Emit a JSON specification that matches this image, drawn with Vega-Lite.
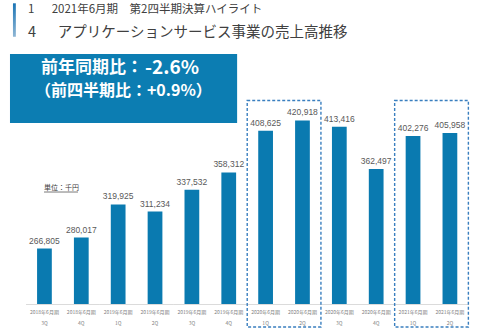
{
  "$schema": "https://vega.github.io/schema/vega-lite/v6.json",
  "width": 480,
  "height": 260,
  "autosize": "none",
  "padding": {"left": 0, "right": 0, "top": 44, "bottom": 25},
  "background": "white",
  "config": {"view": {"stroke": null}},
  "title": {
    "text": "1\u3000\u20022021年6月期\u3000第2四半期決算ハイライト",
    "subtitle": "\u20094\u3000\u2002アプリケーションサービス事業の売上高推移",
    "anchor": "start",
    "frame": "group",
    "dx": 28,
    "offset": 0,
    "dy": 36,
    "font": "Noto Sans CJK JP",
    "fontSize": 11.5,
    "fontWeight": "normal",
    "color": "#404040",
    "subtitleFont": "Noto Sans CJK JP",
    "subtitleFontSize": 14.5,
    "subtitleColor": "#404040",
    "subtitlePadding": 10
  },
  "datasets": {
    "sales": [
      {"cat": "2018年6月期 3Q", "half": "2018年6月期下期", "value": 266805},
      {"cat": "2018年6月期 4Q", "half": "2018年6月期下期", "value": 280017},
      {"cat": "2019年6月期 1Q", "half": "2019年6月期上期", "value": 319925},
      {"cat": "2019年6月期 2Q", "half": "2019年6月期上期", "value": 311234},
      {"cat": "2019年6月期 3Q", "half": "2019年6月期下期", "value": 337532},
      {"cat": "2019年6月期 4Q", "half": "2019年6月期下期", "value": 358312},
      {"cat": "2020年6月期 1Q", "half": "2020年6月期上期", "value": 408625},
      {"cat": "2020年6月期 2Q", "half": "2020年6月期上期", "value": 420918},
      {"cat": "2020年6月期 3Q", "half": "2020年6月期下期", "value": 413416},
      {"cat": "2020年6月期 4Q", "half": "2020年6月期下期", "value": 362497},
      {"cat": "2021年6月期 1Q", "half": "2021年6月期上期", "value": 402276},
      {"cat": "2021年6月期 2Q", "half": "2021年6月期上期", "value": 405958}
    ],
    "highlight": [
      {"half": "2020年6月期上期"},
      {"half": "2021年6月期上期"}
    ],
    "banner": [
      {"line1a": "前年同期比：", "line1b": "-2.6%", "line2": "（前四半期比：+0.9%）", "unit": "単位：千円"}
    ]
  },
  "resolve": {"scale": {"x": "independent"}},
  "layer": [
    {
      "data": {"name": "sales"},
      "layer": [
        {
          "mark": {"type": "bar", "color": "#0a7ab0"},
          "encoding": {
            "x": {
              "field": "cat", "type": "nominal", "sort": null,
              "scale": {"paddingInner": 0.6, "paddingOuter": 0.811, "align": 0.62},
              "axis": {
                "title": null, "domain": false, "ticks": false, "grid": false,
                "labelAngle": 0, "labelExpr": "split(datum.label, ' ')",
                "labelFont": "Noto Sans CJK JP", "labelFontSize": 5, "labelColor": "#808080",
                "labelLineHeight": 11, "labelPadding": 5
              }
            },
            "y": {"field": "value", "type": "quantitative", "scale": {"domain": [200000, 513000]}, "axis": null},
            "y2": {"datum": 200000}
          }
        },
        {
          "mark": {"type": "text", "baseline": "bottom", "dy": -3, "font": "Liberation Sans", "fontSize": 8.5, "color": "#595959"},
          "encoding": {
            "x": {"field": "cat", "type": "nominal", "sort": null},
            "y": {"field": "value", "type": "quantitative", "scale": {"domain": [200000, 513000]}},
            "text": {"field": "value", "type": "quantitative", "format": ","}
          }
        }
      ]
    },
    {
      "layer": [
        {
          "data": {"name": "sales"},
          "mark": {"type": "bar", "color": "#d9d9d9"},
          "encoding": {
            "x": {
              "field": "half", "type": "nominal", "sort": null,
              "scale": {"paddingInner": 0, "paddingOuter": 0.2555, "align": 0.6915},
              "axis": null
            },
            "y": {"datum": 200000, "type": "quantitative", "scale": {"domain": [200000, 513000]}},
            "y2": {"datum": 199000}
          }
        },
        {
          "data": {"name": "highlight"},
          "mark": {"type": "rect", "fill": null, "fillOpacity": 0, "stroke": "#3a7fbf", "strokeWidth": 1.4, "strokeDash": [3, 2]},
          "encoding": {
            "x": {"field": "half", "type": "nominal", "sort": null},
            "y": {"datum": 444900, "type": "quantitative", "scale": {"domain": [200000, 513000]}},
            "y2": {"datum": 172300}
          }
        }
      ]
    },
    {
      "data": {"name": "banner"},
      "layer": [
        {
          "mark": {"type": "rect", "color": "#0c7db2"},
          "encoding": {
            "x": {"datum": 2.08, "type": "quantitative", "scale": {"domain": [0, 100]}, "axis": null},
            "x2": {"datum": 49.4},
            "y": {"datum": 501000, "type": "quantitative", "scale": {"domain": [200000, 513000]}},
            "y2": {"datum": 418000}
          }
        },
        {
          "mark": {"type": "rect", "color": {"x1": 0, "y1": 0, "x2": 0, "y2": 1, "gradient": "linear", "stops": [{"offset": 0, "color": "#1a74b5"}, {"offset": 1, "color": "#8fb6d4"}]}},
          "encoding": {
            "x": {"datum": 2.7, "type": "quantitative"},
            "x2": {"datum": 3.3},
            "y": {"datum": 562000, "type": "quantitative", "scale": {"domain": [200000, 513000]}},
            "y2": {"datum": 521700}
          }
        },
        {
          "mark": {"type": "text", "align": "right", "baseline": "middle", "dx": -1, "font": "Noto Sans CJK JP", "fontWeight": "bold", "fontSize": 17, "color": "white"},
          "encoding": {
            "x": {"datum": 30, "type": "quantitative"},
            "y": {"datum": 484500, "type": "quantitative", "scale": {"domain": [200000, 513000]}},
            "text": {"field": "line1a"}
          }
        },
        {
          "mark": {"type": "text", "align": "left", "baseline": "middle", "dx": 1, "font": "Noto Sans CJK JP", "fontWeight": "bold", "fontSize": 19, "color": "white"},
          "encoding": {
            "x": {"datum": 30, "type": "quantitative"},
            "y": {"datum": 484500, "type": "quantitative", "scale": {"domain": [200000, 513000]}},
            "text": {"field": "line1b"}
          }
        },
        {
          "mark": {"type": "text", "align": "center", "baseline": "middle", "font": "Noto Sans CJK JP", "fontWeight": "bold", "fontSize": 16, "color": "white"},
          "encoding": {
            "x": {"datum": 25.7, "type": "quantitative"},
            "y": {"datum": 456500, "type": "quantitative", "scale": {"domain": [200000, 513000]}},
            "text": {"field": "line2"}
          }
        },
        {
          "mark": {"type": "text", "align": "left", "baseline": "middle", "font": "Noto Sans CJK JP", "fontSize": 7, "color": "#404040"},
          "encoding": {
            "x": {"datum": 9.17, "type": "quantitative"},
            "y": {"datum": 340000, "type": "quantitative", "scale": {"domain": [200000, 513000]}},
            "text": {"field": "unit"}
          }
        },
        {
          "mark": {"type": "rule", "color": "#404040", "strokeWidth": 0.7},
          "encoding": {
            "x": {"datum": 9.17, "type": "quantitative"},
            "x2": {"datum": 16.25},
            "y": {"datum": 334800, "type": "quantitative", "scale": {"domain": [200000, 513000]}}
          }
        }
      ]
    }
  ]
}
